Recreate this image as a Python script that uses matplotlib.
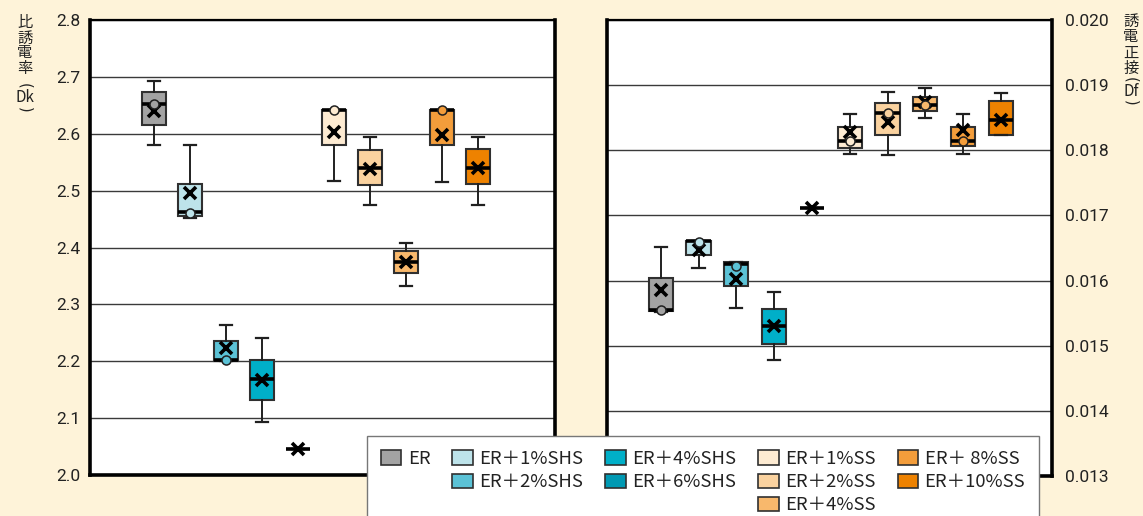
import matplotlib
matplotlib.use("Agg")
import matplotlib.pyplot as plt
from matplotlib.patches import Patch
import numpy as np

# ---------------- data ----------------
categories = ['ER', 'ER＋1%SHS', 'ER＋2%SHS', 'ER＋4%SHS', 'ER＋6%SHS',
              'ER＋1%SS', 'ER＋2%SS', 'ER＋4%SS', 'ER＋ 8%SS', 'ER＋10%SS']
colors = ['#A3A3A3', '#BDE3EA', '#5BC2D6', '#00AFC8', '#0099B3',
          '#FDEBD2', '#FAD29F', '#F8B86C', '#F39D3B', '#EE8200']

# Dk (left panel)
dk_whislo = [2.580, 2.451, 2.201, 2.093, 2.046, 2.517, 2.475, 2.333, 2.516, 2.475]
dk_q1     = [2.616, 2.456, 2.201, 2.131, 2.046, 2.580, 2.510, 2.356, 2.580, 2.511]
dk_med    = [2.653, 2.462, 2.203, 2.168, 2.046, 2.641, 2.539, 2.375, 2.641, 2.540]
dk_q3     = [2.673, 2.512, 2.235, 2.202, 2.046, 2.641, 2.572, 2.393, 2.641, 2.573]
dk_whishi = [2.692, 2.580, 2.264, 2.240, 2.046, 2.641, 2.595, 2.408, 2.641, 2.595]
dk_mean   = [2.640, 2.495, 2.224, 2.167, 2.046, 2.603, 2.538, 2.375, 2.598, 2.540]
dk_point  = [2.653, 2.461, 2.203, np.nan, np.nan, 2.641, np.nan, np.nan, 2.641, np.nan]

# Df (right panel)
df_whislo = [0.01551, 0.01619, 0.01558, 0.01478, 0.01712, 0.01795, 0.01792, 0.01850, 0.01794, 0.01824]
df_q1     = [0.01554, 0.01639, 0.01591, 0.01503, 0.01712, 0.01804, 0.01824, 0.01860, 0.01806, 0.01824]
df_med    = [0.01555, 0.01660, 0.01626, 0.01530, 0.01712, 0.01815, 0.01857, 0.01870, 0.01815, 0.01846]
df_q3     = [0.01604, 0.01661, 0.01628, 0.01556, 0.01712, 0.01835, 0.01873, 0.01882, 0.01835, 0.01875]
df_whishi = [0.01651, 0.01661, 0.01628, 0.01582, 0.01712, 0.01856, 0.01890, 0.01895, 0.01856, 0.01888]
df_mean   = [0.01586, 0.01647, 0.01603, 0.01530, 0.01712, 0.01828, 0.01844, 0.01874, 0.01831, 0.01846]
df_point  = [0.01555, 0.01659, 0.01623, np.nan, np.nan, 0.01815, 0.01857, 0.01869, 0.01815, np.nan]

dk_ticks = [2.0, 2.1, 2.2, 2.3, 2.4, 2.5, 2.6, 2.7, 2.8]
df_ticks = [0.013, 0.014, 0.015, 0.016, 0.017, 0.018, 0.019, 0.020]
dk_label = ['比', '誘', '電', '率', '(', 'Dk', ')']
df_label = ['誘', '電', '正', '接', '(', 'Df', ')']

# ---------------- style ----------------
BG = '#FEF3D9'
CJK = ['Noto Sans CJK JP', 'DejaVu Sans']
plt.rcParams['font.family'] = CJK

W, H = 1143, 516
fig = plt.figure(figsize=(W / 100, H / 100), dpi=100, facecolor=BG)


def fx(px):
    return px / W


def fy(py):
    return 1 - py / H


ax1 = fig.add_axes([fx(90), fy(475), fx(555 - 90), (475 - 20) / H])
ax2 = fig.add_axes([fx(607), fy(476), fx(1052 - 607), (476 - 20) / H])


def draw(ax, whislo, q1, med, q3, whishi, mean, pts, ticks, ylim, xlim, width, fmt):
    stats = []
    for i in range(len(categories)):
        stats.append(dict(whislo=whislo[i], q1=q1[i], med=med[i], q3=q3[i],
                          whishi=whishi[i], mean=mean[i], fliers=[]))
    pos = np.arange(1, len(categories) + 1)
    bp = ax.bxp(stats, positions=pos, widths=width, patch_artist=True,
                showmeans=True, showfliers=False, capwidths=width * 0.5,
                boxprops=dict(edgecolor='#303030', linewidth=1.5),
                medianprops=dict(color='black', linewidth=2.6),
                whiskerprops=dict(color='#202020', linewidth=1.4),
                capprops=dict(color='#202020', linewidth=1.6),
                meanprops=dict(marker='x', markersize=9, markeredgewidth=2.6,
                               markeredgecolor='black', markerfacecolor='black'),
                zorder=3)
    for patch, c in zip(bp['boxes'], colors):
        patch.set_facecolor(c)
    for i in range(len(categories)):
        if not np.isnan(pts[i]):
            ax.plot(pos[i], pts[i], marker='o', markersize=6.5, markerfacecolor=colors[i],
                    markeredgecolor='#202020', markeredgewidth=1.1, zorder=4)
    ax.set_xlim(*xlim)
    ax.set_ylim(*ylim)
    ax.set_yticks(ticks)
    ax.set_yticklabels([fmt.format(t) for t in ticks], family=['Roboto', 'DejaVu Sans'],
                       fontsize=12.5, color='#222222')
    ax.set_xticks([])
    ax.tick_params(axis='y', length=0)
    ax.grid(axis='y', color='#3a3a3a', linewidth=1.0, zorder=1)
    ax.set_axisbelow(True)
    ax.set_facecolor('white')
    for s in ['left', 'bottom', 'right']:
        ax.spines[s].set_linewidth(2.6)
        ax.spines[s].set_color('black')
    ax.spines['top'].set_linewidth(1.6)
    ax.spines['top'].set_color('black')


draw(ax1, dk_whislo, dk_q1, dk_med, dk_q3, dk_whishi, dk_mean, dk_point,
     dk_ticks, (2.0, 2.8), (-0.786, 12.13), 0.67, '{:.1f}')
ax1.tick_params(axis='y', pad=7)

draw(ax2, df_whislo, df_q1, df_med, df_q3, df_whishi, df_mean, df_point,
     df_ticks, (0.013, 0.020), (-0.421, 11.35), 0.64, '{:.3f}')
ax2.yaxis.tick_right()
ax2.tick_params(axis='y', pad=9, length=0)


def vlabel(chars, x, ys):
    for ch, py in zip(chars, ys):
        paren = ch in '()'
        fig.text(fx(x), fy(py), ch, ha='center', va='center',
                 fontsize=10.5 if paren else 11,
                 family=['DejaVu Sans'] if paren else CJK,
                 rotation=-90 if paren else 0, rotation_mode='anchor',
                 color='#222222')


vlabel(dk_label, 25, [23, 38, 53, 68, 86, 98, 110])
vlabel(df_label, 1131, [21.5, 36.5, 53, 68, 80, 91, 103])

# legend
handles = [Patch(facecolor=c, edgecolor='#303030', linewidth=1.2, label=l)
           for c, l in zip(colors, categories)]
blank = lambda: Patch(visible=False, label=' ')
order = [handles[0], blank(), blank(),
         handles[1], handles[2], blank(),
         handles[3], handles[4], blank(),
         handles[5], handles[6], handles[7],
         handles[8], handles[9], blank()]
leg = fig.legend(handles=order, labels=[h.get_label() for h in order], ncol=5,
                 loc='upper left', bbox_to_anchor=(fx(367), fy(436)),
                 bbox_transform=fig.transFigure, borderaxespad=0,
                 frameon=True, fancybox=False, framealpha=1, facecolor='white',
                 edgecolor='#777777', prop=dict(family=CJK, size=13.3),
                 handlelength=1.1, handleheight=0.8, handletextpad=0.35,
                 columnspacing=1.2, labelspacing=0.28, borderpad=0.75)
leg.get_frame().set_linewidth(1.0)
for t in leg.get_texts():
    t.set_color('#222222')

fig.savefig('out.png', dpi=100, facecolor=BG)
